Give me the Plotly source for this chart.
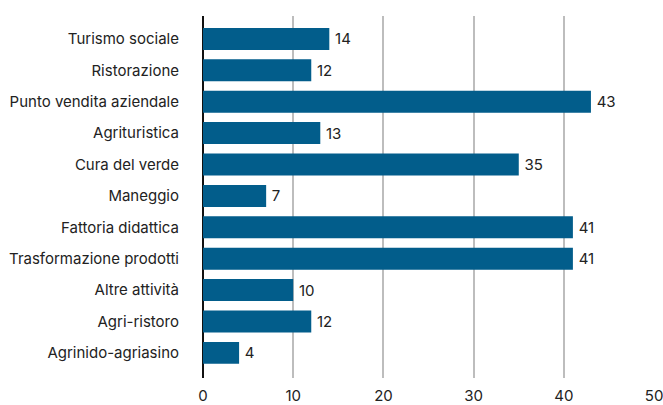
import plotly.graph_objects as go

# Activities and counts, listed top to bottom
categories = [
    "Turismo sociale",
    "Ristorazione",
    "Punto vendita aziendale",
    "Agrituristica",
    "Cura del verde",
    "Maneggio",
    "Fattoria didattica",
    "Trasformazione prodotti",
    "Altre attività",
    "Agri-ristoro",
    "Agrinido-agriasino",
]
values = [14, 12, 43, 13, 35, 7, 41, 41, 10, 12, 4]
x_ticks = [0, 10, 20, 30, 40, 50]

FONT = "Inter"
TEXT = "#222222"

fig = go.Figure(
    go.Bar(
        x=values,
        y=categories,
        orientation="h",
        marker=dict(color="#025d8b", line=dict(width=0)),
        text=["\u2009" + str(v) for v in values],
        textposition="outside",
        textfont=dict(family=FONT, size=15, color=TEXT),
        cliponaxis=False,
        hoverinfo="skip",
    )
)

fig.update_layout(
    width=663,
    height=405,
    margin=dict(l=203, r=8, t=16, b=27, autoexpand=False),
    paper_bgcolor="white",
    plot_bgcolor="white",
    bargap=0.3,
    showlegend=False,
    font=dict(family=FONT, size=15, color=TEXT),
    xaxis=dict(
        range=[0, 50.1],
        tickvals=x_ticks,
        ticktext=[str(t) for t in x_ticks],
        showgrid=True,
        gridcolor="#bdbdbd",
        gridwidth=2,
        zeroline=True,
        zerolinecolor="#111111",
        zerolinewidth=2,
        showline=False,
        ticks="outside",
        ticklen=4,
        tickcolor="rgba(0,0,0,0)",
        tickfont=dict(family=FONT, size=15, color=TEXT),
        ticklabeloverflow="allow",
        automargin=False,
        fixedrange=True,
    ),
    yaxis=dict(
        categoryorder="array",
        categoryarray=categories,
        range=[10.8, -0.73],
        showgrid=False,
        ticks="outside",
        ticklen=20,
        tickcolor="rgba(0,0,0,0)",
        tickfont=dict(family=FONT, size=15, color=TEXT),
        automargin=False,
        fixedrange=True,
    ),
)

fig.write_html("out.html")
